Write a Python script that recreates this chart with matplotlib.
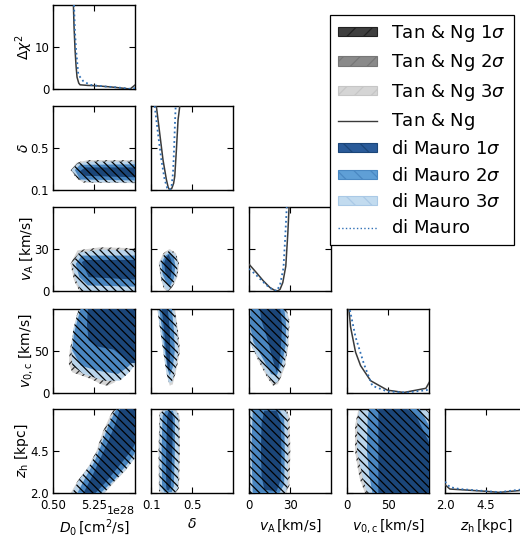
import matplotlib
matplotlib.use('Agg')
import matplotlib.pyplot as plt
from matplotlib.patches import Polygon, Patch
from matplotlib.lines import Line2D
from matplotlib.ticker import FuncFormatter

plt.rcParams['font.family'] = ['DejaVu Sans']
plt.rcParams['mathtext.fontset'] = 'dejavusans'
plt.rcParams['hatch.linewidth'] = 0.9

# ---------------- parameters ----------------
D0_UNIT = 1e28
par_names = ['D0', 'delta', 'vA', 'v0c', 'zh']
par_lo = [0.5, 0.1, 0.0, 0.0, 2.0]
par_hi = [10.0, 0.9, 60.0, 100.0, 7.0]
par_ticks = [[0.5, 5.25], [0.1, 0.5], [0, 30], [0, 50], [2.0, 4.5]]
x_labels = [r'$D_0\,[\rm cm^2/s]$', r'$\delta$', r'$v_{\rm A}\,[\rm km/s]$',
            r'$v_{0,\rm c}\,[\rm km/s]$', r'$z_{\rm h}\,[\rm kpc]$']
y_labels = [r'$\Delta\chi^2$', r'$\delta$', r'$v_{\rm A}$ [km/s]',
            r'$v_{0,\rm c}$ [km/s]', r'$z_{\rm h}$ [kpc]']
D0_offset_label = '1e28'
chi_lo, chi_hi, chi_ticks = 0, 20, [0, 10]

# ---------------- 1D profiles (Delta chi^2) ----------------
prof_D0_tn_x = [2.83, 2.9, 3.02, 3.14, 3.25, 3.45, 3.6, 4.5, 5.2, 6.2, 7.1, 8.3, 9.4, 10.0]
prof_D0_tn_y = [20, 15, 9.3, 5.4, 2.8, 1.4, 1.0, 0.85, 0.8, 0.65, 0.5, 0.25, 0.0, 1.0]
prof_D0_dm_x = [2.9, 3.0, 3.14, 3.4, 4.0, 4.77, 5.5, 6.5, 7.5, 8.5, 9.4, 10.0]
prof_D0_dm_y = [20, 14, 9.3, 3.4, 1.8, 1.0, 0.8, 0.6, 0.45, 0.25, 0.05, 0.2]

prof_delta_tn_x = [0.149, 0.182, 0.214, 0.247, 0.265, 0.28, 0.3, 0.318, 0.329, 0.345, 0.361, 0.378]
prof_delta_tn_y = [20, 13.5, 7.2, 2.5, 0.6, 0.0, 0.4, 1.6, 3.3, 9.6, 16.7, 20]
prof_delta_dm_x = [0.133, 0.165, 0.198, 0.23, 0.255, 0.275, 0.296, 0.312, 0.322, 0.332, 0.338]
prof_delta_dm_y = [20, 13.5, 7.2, 2.5, 0.5, 0.0, 0.55, 4.1, 9.6, 16.7, 20]

prof_vA_tn_x = [0, 5.4, 10.3, 15.2, 18.9, 21, 22.5, 24.5, 26.7, 28.2, 29.1]
prof_vA_tn_y = [6.3, 4.3, 2.4, 0.8, 0.1, 0.05, 0.4, 2.0, 5.9, 13.8, 20]
prof_vA_dm_x = [0, 5, 10, 15, 20.1, 22.5, 25, 26.2, 27.4]
prof_vA_dm_y = [5.3, 3.8, 2.2, 0.7, 0.0, 1.5, 5.5, 12.3, 20]

prof_v0c_tn_x = [2, 4.1, 10.2, 16.3, 28.6, 49, 69, 96, 100]
prof_v0c_tn_y = [20, 15.6, 9.6, 6.4, 2.8, 0.56, 0.0, 1.0, 2.4]
prof_v0c_dm_x = [3.3, 10.2, 20.4, 30.6, 49, 73, 97, 100]
prof_v0c_dm_y = [19.6, 13.2, 6.8, 1.6, 0.24, 0.0, 0.56, 1.0]

prof_zh_tn_x = [2.0, 2.3, 2.9, 3.7, 4.5, 5.3, 6.6, 7.0]
prof_zh_tn_y = [1.96, 0.94, 0.8, 0.6, 0.4, 0.15, 0.6, 0.7]
prof_zh_dm_x = [2.0, 2.3, 2.9, 3.7, 4.5, 5.3, 6.6, 7.0]
prof_zh_dm_y = [2.7, 1.4, 0.94, 0.7, 0.45, 0.2, 0.8, 0.9]

# ---------------- 2D contour outlines (x, y) ----------------
# delta vs D0
c10_tn = [(2.5, 0.29), (3.2, 0.36), (4.5, 0.385), (10.5, 0.385), (10.5, 0.165), (4.0, 0.17), (3.2, 0.21)]
c10_dm3 = [(2.6, 0.29), (3.3, 0.35), (4.5, 0.37), (10.5, 0.37), (10.5, 0.17), (4.5, 0.175), (3.3, 0.21)]
c10_dm2 = [(3.0, 0.29), (3.6, 0.34), (10.5, 0.345), (10.5, 0.19), (3.6, 0.2)]
c10_dm1 = [(3.6, 0.28), (4.2, 0.315), (10.5, 0.315), (10.5, 0.22), (4.2, 0.235)]
# vA vs D0
c20_tn = [(2.5, 19.4), (3.3, 29.0), (5.9, 31.2), (10.5, 30.5), (10.5, -1), (3.6, -1), (2.9, 7.6)]
c20_dm3 = [(2.7, 19.4), (3.5, 27.5), (5.9, 29.5), (10.5, 29.0), (10.5, -1), (3.8, -1), (3.1, 8.0)]
c20_dm2 = [(3.1, 19.4), (3.8, 25.3), (10.5, 25.3), (10.5, 3.0), (4.5, 4.0), (3.5, 10.0)]
c20_dm1 = [(3.8, 20.6), (4.2, 22.2), (10.5, 22.2), (10.5, 8.0), (4.6, 9.9)]
# vA vs delta
c21_tn = [(0.28, 30), (0.34, 27), (0.37, 20), (0.355, 10), (0.30, 2), (0.26, -1), (0.22, 2), (0.19, 10), (0.172, 20), (0.22, 27)]
c21_dm3 = [(0.28, 29), (0.335, 26), (0.36, 20), (0.345, 10), (0.295, 3), (0.26, 0), (0.225, 3), (0.195, 10), (0.18, 20), (0.225, 26)]
c21_dm2 = [(0.275, 27), (0.32, 24), (0.335, 18), (0.32, 9), (0.28, 3), (0.245, 6), (0.21, 12), (0.2, 20), (0.235, 25)]
c21_dm1 = [(0.27, 26), (0.295, 22), (0.30, 16), (0.29, 10), (0.265, 9), (0.235, 14), (0.225, 20), (0.245, 24)]
# v0c vs D0
c30_tn = [(3.4, 101), (2.9, 75), (2.4, 50), (2.3, 34), (2.7, 24), (4.9, 16), (6.0, 10), (6.8, 8), (7.6, 12), (9.0, 28), (10.5, 45), (10.5, 101)]
c30_dm3 = [(3.5, 101), (2.8, 75), (2.6, 50), (2.7, 32), (4.0, 22), (6.4, 14), (8.2, 14), (9.3, 24), (10.5, 40), (10.5, 101)]
c30_dm2 = [(3.7, 101), (2.9, 71), (2.7, 50), (3.7, 32), (5.6, 26), (8.0, 22), (9.1, 30), (10.5, 44), (10.5, 101)]
c30_dm1 = [(4.5, 101), (4.4, 80), (4.6, 62), (5.5, 55), (7.5, 51), (8.8, 40), (9.5, 35), (10.5, 35), (10.5, 101)]
# v0c vs delta
c31_tn = [(0.155, 101), (0.33, 101), (0.36, 75), (0.38, 50), (0.35, 30), (0.31, 10), (0.28, 8), (0.255, 20), (0.225, 45), (0.19, 75)]
c31_dm3 = [(0.16, 101), (0.32, 101), (0.35, 75), (0.365, 50), (0.34, 30), (0.30, 12), (0.27, 12), (0.245, 25), (0.215, 50), (0.18, 80)]
c31_dm2 = [(0.175, 101), (0.30, 101), (0.32, 75), (0.33, 50), (0.31, 30), (0.28, 20), (0.255, 30), (0.225, 55), (0.20, 80)]
c31_dm1 = [(0.20, 101), (0.26, 101), (0.28, 75), (0.285, 50), (0.28, 30), (0.265, 25), (0.25, 40), (0.235, 60), (0.215, 85)]
# v0c vs vA
c32_tn = [(-1, 101), (27, 101), (29.5, 85), (28.5, 55), (26, 30), (21, 10), (17.5, 8), (13, 18), (6, 40), (-1, 65)]
c32_dm3 = [(-1, 101), (26.5, 101), (29, 85), (28, 55), (25.5, 32), (20.5, 12), (17.5, 11), (13.5, 20), (6.5, 42), (-1, 62)]
c32_dm2 = [(1, 101), (25.5, 101), (27, 80), (26.5, 55), (24, 35), (20, 20), (16, 22), (10, 40), (3, 60), (0.5, 80)]
c32_dm1 = [(7.5, 101), (22.5, 101), (24, 80), (23, 50), (21.5, 30), (20, 24), (17, 40), (13, 65), (9, 85)]
# zh vs D0
c40_tn = [(2.4, 1.9), (3.3, 2.7), (4.6, 3.6), (5.5, 4.5), (6.2, 5.6), (7.0, 6.5), (7.6, 7.1), (10.5, 7.1), (10.5, 4.6), (9.0, 3.4), (7.5, 2.6), (6.3, 1.9)]
c40_dm3 = [(2.6, 1.9), (3.5, 2.8), (4.8, 3.7), (5.7, 4.6), (6.4, 5.6), (7.2, 6.5), (7.8, 7.1), (10.5, 7.1), (10.5, 4.4), (8.9, 3.4), (7.4, 2.6), (6.2, 1.9)]
c40_dm2 = [(3.2, 1.9), (4.2, 2.9), (5.3, 3.9), (6.1, 4.9), (6.8, 5.9), (7.6, 6.8), (8.0, 7.1), (10.5, 7.1), (10.5, 4.8), (9.2, 3.8), (7.6, 2.8), (5.8, 1.9)]
c40_dm1 = [(3.9, 1.9), (5.0, 3.0), (5.9, 4.0), (6.8, 5.0), (7.6, 6.0), (8.3, 7.1), (10.5, 7.1), (10.5, 5.3), (9.2, 4.3), (7.8, 3.4), (6.5, 2.6), (5.2, 1.9)]
# zh vs delta
c41_tn = [(0.175, 2.1), (0.17, 4.5), (0.18, 6.8), (0.22, 7.0), (0.34, 7.0), (0.375, 6.6), (0.38, 4.5), (0.37, 2.3), (0.34, 1.95), (0.2, 1.95)]
c41_dm3 = [(0.18, 2.2), (0.178, 4.5), (0.185, 6.7), (0.22, 6.95), (0.33, 6.95), (0.365, 6.6), (0.37, 4.5), (0.36, 2.3), (0.33, 2.0), (0.21, 2.0)]
c41_dm2 = [(0.205, 2.3), (0.2, 4.5), (0.21, 6.6), (0.24, 6.9), (0.31, 6.9), (0.33, 6.5), (0.33, 4.5), (0.32, 2.4), (0.3, 2.05), (0.23, 2.05)]
c41_dm1 = [(0.245, 2.4), (0.245, 4.5), (0.255, 6.6), (0.27, 6.85), (0.295, 6.85), (0.31, 6.5), (0.305, 4.5), (0.29, 2.4), (0.27, 2.15), (0.25, 2.2)]
# zh vs vA
c42_tn = [(-1, 1.95), (-1, 7.05), (27, 7.05), (29.5, 6.5), (30, 4.5), (29.5, 2.5), (27, 1.95)]
c42_dm3 = [(-1, 1.95), (-1, 7.05), (26, 7.05), (28, 6.6), (28.5, 4.5), (28, 2.4), (26, 1.95)]
c42_dm2 = [(2.5, 2.0), (1.5, 4.5), (2.5, 6.95), (22, 6.95), (25.5, 6.5), (26, 4.5), (25.5, 2.5), (22, 2.0)]
c42_dm1 = [(11, 2.2), (9, 3.0), (8.5, 4.5), (9, 6.2), (11, 6.9), (20, 6.9), (23, 6.3), (23.5, 4.5), (23, 2.8), (20, 2.1)]
# zh vs v0c
c43_tn = [(22, 1.95), (15, 2.9), (9.5, 4.5), (9.5, 6.0), (14, 7.05), (105, 7.05), (105, 1.95)]
c43_dm3 = [(25, 1.95), (20, 2.7), (12, 4.5), (12.5, 6.3), (15, 7.05), (95, 7.05), (105, 6.5), (105, 1.95)]
c43_dm2 = [(31, 1.95), (27, 3.0), (24, 4.5), (25, 6.5), (27, 7.05), (88, 7.05), (100, 6.0), (105, 5.5), (105, 1.95)]
c43_dm1 = [(38, 1.95), (38, 7.05), (72, 7.05), (85, 6.5), (100, 5.0), (105, 4.6), (105, 1.95)]

contours = {
    (1, 0): (c10_tn, c10_dm3, c10_dm2, c10_dm1),
    (2, 0): (c20_tn, c20_dm3, c20_dm2, c20_dm1),
    (2, 1): (c21_tn, c21_dm3, c21_dm2, c21_dm1),
    (3, 0): (c30_tn, c30_dm3, c30_dm2, c30_dm1),
    (3, 1): (c31_tn, c31_dm3, c31_dm2, c31_dm1),
    (3, 2): (c32_tn, c32_dm3, c32_dm2, c32_dm1),
    (4, 0): (c40_tn, c40_dm3, c40_dm2, c40_dm1),
    (4, 1): (c41_tn, c41_dm3, c41_dm2, c41_dm1),
    (4, 2): (c42_tn, c42_dm3, c42_dm2, c42_dm1),
    (4, 3): (c43_tn, c43_dm3, c43_dm2, c43_dm1),
}
profiles = [
    (prof_D0_tn_x, prof_D0_tn_y, prof_D0_dm_x, prof_D0_dm_y),
    (prof_delta_tn_x, prof_delta_tn_y, prof_delta_dm_x, prof_delta_dm_y),
    (prof_vA_tn_x, prof_vA_tn_y, prof_vA_dm_x, prof_vA_dm_y),
    (prof_v0c_tn_x, prof_v0c_tn_y, prof_v0c_dm_x, prof_v0c_dm_y),
    (prof_zh_tn_x, prof_zh_tn_y, prof_zh_dm_x, prof_zh_dm_y),
]

# ---------------- styles ----------------
col_tn = ['#3f3f3f', '#8a8a8a', '#d5d5d5']
col_dm = ['#1b4679', '#4a86c0', '#b9d4eb']
col_tn_line = '#3a3a3a'
col_dm_line = '#2f6fb5'

W, H = 520, 539
fig = plt.figure(figsize=(W / 100, H / 100), dpi=100)
col_left = [53.3, 151.3, 249.3, 347.2, 445.0]
row_top = [5.0, 106.0, 207.0, 308.5, 409.0]
aw, ah = 82.0, 84.0
TICK_FS = 8.5
LABEL_FS = 10


def scale(i, v):
    return v * D0_UNIT if i == 0 else v


d0_fmt = FuncFormatter(lambda v, pos: '%.2f' % (v / D0_UNIT))

axes = {}
for r in range(5):
    for c in range(r + 1):
        ax = fig.add_axes([col_left[c] / W, 1 - (row_top[r] + ah) / H, aw / W, ah / H])
        axes[(r, c)] = ax
        ax.set_xlim(scale(c, par_lo[c]), scale(c, par_hi[c]))
        ax.set_xticks([scale(c, t) for t in par_ticks[c]])
        if c == 0:
            ax.xaxis.set_major_formatter(d0_fmt)
        if r == c:
            ax.set_ylim(chi_lo, chi_hi)
            ax.set_yticks(chi_ticks)
            tx, ty, dx, dy = profiles[c]
            ax.plot([scale(c, v) for v in tx], ty, '-', color=col_tn_line, lw=1.1, zorder=3)
            ax.plot([scale(c, v) for v in dx], dy, ':', color=col_dm_line, lw=1.3, zorder=4)
        else:
            ax.set_ylim(par_lo[r], par_hi[r])
            ax.set_yticks(par_ticks[r])
            tn, d3, d2, d1 = contours[(r, c)]

            def P(pts):
                return [(scale(c, x), y) for x, y in pts]
            ax.add_patch(Polygon(P(tn), closed=True, facecolor=col_tn[2], edgecolor='#333333',
                                 lw=0, hatch='////', zorder=1))
            ax.add_patch(Polygon(P(d3), closed=True, facecolor=col_dm[2], lw=0, zorder=2))
            ax.add_patch(Polygon(P(d2), closed=True, facecolor=col_dm[1], lw=0, zorder=3))
            ax.add_patch(Polygon(P(d1), closed=True, facecolor=col_dm[0], lw=0, zorder=4))
            ax.add_patch(Polygon(P(d3), closed=True, fill=False, edgecolor='black',
                                 lw=0, hatch='\\\\\\\\', zorder=5))
        ax.tick_params(direction='in', top=True, right=True, length=4, width=0.8,
                       labelsize=TICK_FS)
        ax.tick_params(axis='x', pad=4)
        ax.tick_params(axis='y', pad=3)
        for s in ax.spines.values():
            s.set_linewidth(1.0)
        if c == 0:
            ax.set_ylabel(y_labels[r], fontsize=LABEL_FS, labelpad=-0.5)
        else:
            ax.tick_params(labelleft=False)
        if r == 4:
            ax.set_xlabel(x_labels[c], fontsize=LABEL_FS, labelpad=4)
        else:
            ax.tick_params(labelbottom=False)

# offset (exponent) label of the D0 axis
ax40 = axes[(4, 0)]
ax40.text(1.0, -(510 - 492.5) / 84, D0_offset_label, transform=ax40.transAxes,
          ha='right', va='center', fontsize=8)

handles = [
    Patch(facecolor=col_tn[0], edgecolor='#222222', hatch='//', lw=0.8),
    Patch(facecolor=col_tn[1], edgecolor='#777777', hatch='//', lw=0.8),
    Patch(facecolor=col_tn[2], edgecolor='#c6c6c6', hatch='//', lw=0.8),
    Line2D([], [], color=col_tn_line, lw=1.0),
    Patch(facecolor='#2a5b99', edgecolor='#1b4679', hatch='\\\\', lw=0.8),
    Patch(facecolor='#5f9fd6', edgecolor='#4a88c2', hatch='\\\\', lw=0.8),
    Patch(facecolor='#c2dbef', edgecolor='#aac9e6', hatch='\\\\', lw=0.8),
    Line2D([], [], color=col_dm_line, lw=1.0, ls=':'),
]
labels = [r'Tan & Ng 1$\sigma$', r'Tan & Ng 2$\sigma$', r'Tan & Ng 3$\sigma$', r'Tan & Ng$\,$',
          r'di Mauro 1$\sigma$', r'di Mauro 2$\sigma$', r'di Mauro 3$\sigma$', r'di Mauro$\,$']
leg = fig.legend(handles, labels, loc='upper right', bbox_to_anchor=(514 / W, 1 - 15 / H),
                 fontsize=13, frameon=True, fancybox=False, framealpha=1, edgecolor='black',
                 handlelength=2.15, handleheight=0.4, handletextpad=0.8, borderpad=0.45,
                 labelspacing=0.46, borderaxespad=0)
leg.get_frame().set_linewidth(0.9)

fig.savefig('out.png', dpi=100)
